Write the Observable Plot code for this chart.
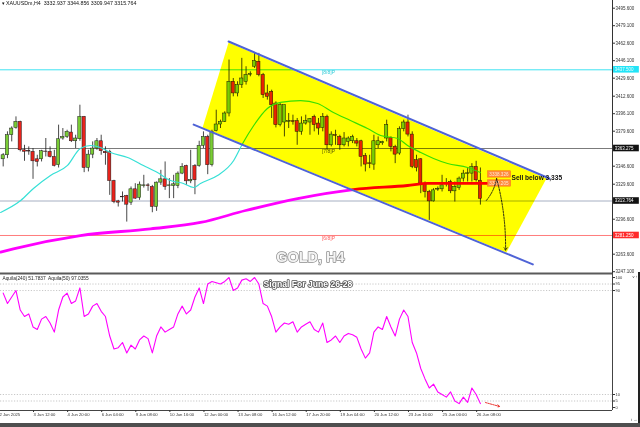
<!DOCTYPE html>
<html><head><meta charset="utf-8">
<script src="https://cdn.jsdelivr.net/npm/d3@7"></script>
<script src="https://cdn.jsdelivr.net/npm/@observablehq/plot@0.6"></script>
<style>
html,body{margin:0;padding:0;background:#fff;}
body{width:640px;height:427px;overflow:hidden;position:relative;font-family:"Liberation Sans",sans-serif;}
#main{position:absolute;left:0;top:0;}
#ind{position:absolute;left:0;top:272px;}
#foot{position:absolute;left:0;top:423px;width:640px;height:4px;background:#4f4f4f;}
#edge{position:absolute;left:638px;top:272px;width:2px;height:151px;background:#222;}
</style></head><body>
<div id="main"></div><div id="ind"></div><div id="foot"></div><div id="edge"></div>
<script>
// ---------------- data ----------------
const header = "\u25BE XAUUSDm,H4  3332.937 3344.856 3309.947 3315.764";
const open = [3353.1,3356.9,3375.8,3382.7,3388.4,3361.6,3361.0,3360.1,3353.1,3353.1,
3360.4,3360.1,3355.3,3347.5,3372.7,3374.2,3378.3,3370.1,3372.0,3393.1,
3344.9,3357.5,3363.2,3370.1,3360.1,3360.1,3332.6,3313.4,3317.8,3318.5,
3312.2,3324.8,3316.6,3327.9,3328.5,3327.0,3308.1,3331.1,3334.2,3327.9,
3327.9,3327.9,3339.6,3346.8,3332.3,3346.8,3346.8,3365.7,3374.2,3347.5,
3379.6,3385.9,3388.4,3396.3,3426.2,3415.2,3423.1,3426.2,3432.8,3440.4,
3445.1,3432.5,3415.2,3416.8,3405.7,3385.3,3387.8,3388.4,3389.0,3389.0,
3379.0,3386.8,3387.8,3393.1,3386.8,3382.7,3393.1,3366.3,3375.8,3374.2,
3366.3,3369.5,3370.1,3370.1,3370.1,3356.3,3349.3,3348.1,3366.3,3368.2,
3372.7,3373.3,3364.8,3358.5,3381.5,3387.8,3376.4,3352.2,3353.1,3330.1,
3322.3,3313.4,3324.5,3324.8,3329.8,3331.7,3322.9,3326.0,3334.9,3339.3,
3339.6,3345.9,3332.9];
const high = [3358.5,3379.0,3383.7,3393.1,3389.0,3366.3,3364.8,3363.2,3356.9,3361.6,
3372.7,3364.8,3361.6,3385.3,3382.1,3380.5,3385.3,3375.8,3404.1,3393.5,
3361.6,3369.5,3372.7,3375.8,3364.8,3361.6,3333.3,3314.4,3322.3,3319.1,
3327.0,3330.1,3331.7,3338.0,3330.1,3328.5,3331.7,3342.7,3350.6,3334.9,
3338.0,3341.2,3349.0,3347.5,3361.6,3348.1,3370.1,3379.0,3375.8,3380.5,
3399.4,3390.0,3397.9,3446.7,3429.3,3426.2,3448.3,3440.4,3435.6,3453.0,
3453.0,3434.1,3423.1,3418.3,3407.3,3405.7,3404.1,3396.3,3394.7,3391.6,
3393.1,3394.7,3391.6,3394.7,3391.6,3396.3,3394.7,3379.0,3380.5,3375.8,
3378.3,3374.2,3375.8,3372.7,3371.1,3358.5,3356.9,3375.8,3374.2,3370.1,
3390.0,3374.2,3366.3,3383.7,3390.0,3394.7,3379.0,3356.9,3353.7,3331.7,
3323.8,3325.4,3327.0,3338.0,3334.9,3333.3,3331.7,3336.4,3342.7,3344.3,
3349.0,3351.2,3344.9];
const low = [3345.9,3353.7,3369.5,3381.5,3360.1,3351.2,3356.9,3334.2,3345.9,3350.6,
3355.3,3354.4,3345.9,3344.9,3371.1,3372.7,3368.9,3363.2,3370.1,3340.5,
3341.2,3353.7,3361.6,3356.9,3347.5,3319.1,3311.2,3308.1,3312.8,3293.9,
3309.6,3315.3,3314.4,3326.0,3322.9,3302.7,3304.0,3328.5,3323.8,3316.0,
3316.0,3325.4,3338.6,3328.5,3330.1,3319.7,3345.6,3363.2,3338.6,3345.9,
3379.0,3382.1,3387.8,3393.1,3412.0,3412.0,3419.9,3423.1,3430.9,3438.8,
3430.9,3410.5,3408.9,3391.6,3382.7,3383.7,3374.2,3382.1,3385.3,3366.3,
3375.8,3385.3,3375.8,3379.0,3375.8,3379.0,3361.6,3364.8,3366.3,3361.6,
3364.8,3364.8,3367.9,3364.8,3345.9,3341.2,3344.3,3342.7,3363.2,3366.3,
3369.5,3360.1,3349.0,3356.9,3379.0,3374.2,3344.3,3341.2,3320.7,3316.6,
3295.5,3312.8,3322.9,3322.3,3327.0,3320.7,3312.8,3323.8,3331.7,3331.7,
3331.7,3331.7,3309.9];
const close = [3356.9,3375.8,3382.1,3388.4,3361.6,3360.1,3360.4,3351.2,3350.6,3360.7,
3360.1,3355.3,3346.8,3372.0,3374.2,3379.0,3370.1,3372.7,3393.1,3344.9,
3357.5,3363.2,3370.1,3360.7,3358.8,3332.6,3312.8,3312.2,3317.2,3310.3,
3324.8,3316.0,3329.2,3328.5,3327.9,3308.1,3331.1,3334.2,3327.0,3328.5,
3329.5,3339.6,3345.9,3332.3,3333.6,3333.3,3365.7,3374.2,3347.5,3379.0,
3385.9,3388.4,3396.3,3426.2,3415.2,3423.1,3429.3,3432.5,3433.4,3445.7,
3432.5,3413.6,3412.0,3404.1,3385.3,3404.1,3404.1,3389.0,3388.4,3379.0,
3386.8,3389.0,3390.9,3385.3,3382.1,3393.1,3366.3,3376.4,3375.2,3366.3,
3372.7,3372.7,3374.2,3367.9,3355.3,3348.1,3348.7,3370.1,3370.1,3369.5,
3385.3,3364.8,3357.5,3381.5,3387.8,3376.4,3345.9,3344.9,3330.1,3322.3,
3313.4,3323.8,3325.1,3328.5,3330.4,3322.9,3327.0,3334.9,3339.6,3339.9,
3345.9,3333.3,3315.8];
const aquila50 = [88,80,85,90,75,70,72,62,60,68,
70,65,58,75,85,88,80,82,92,70,
72,78,80,74,70,55,45,46,50,42,
48,45,52,55,53,42,55,62,58,60,
62,72,78,72,75,85,92,80,95,97,
96,95,97,100,90,92,98,99,97,100,
95,80,78,70,58,62,65,64,66,58,
62,64,66,60,58,65,50,52,55,50,
55,57,56,54,45,38,42,58,62,60,
70,62,55,68,75,70,50,42,30,22,
15,18,12,10,8,12,5,3,8,4,
15,10,3];
const maFastBar = [-0.6,4.1,7.1,11.1,15.1,18.1,20.5,22.8,25.2,29.2,32.9,36.2,39.3,42.3,44.7,46.3,50.3,54.1,56.2,58.8,62.0,65.1,69.8,73.8,77.5,81.5,85.5,88.6,92.6,94.9,98.0,101.0,104.3,109.0,112.0];
const maFastPrice = [3303.0,3314.2,3325.6,3337.8,3347.3,3363.3,3366.1,3364.2,3359.5,3354.8,3347.3,3340.6,3333.1,3330.3,3326.5,3330.3,3337.8,3352.0,3368.0,3385.0,3401.0,3406.7,3408.5,3405.7,3397.2,3389.7,3382.1,3375.5,3372.7,3366.1,3359.5,3353.9,3349.1,3345.4,3340.6];
const maSlowBar = [-0.6,2.4,18.1,34.6,46.3,56.9,69.1,82.2,94.9,99.6,113.5];
const maSlowPrice = [3265.6,3268.7,3281.2,3287.5,3293.5,3304.8,3316.1,3324.6,3328.4,3330.3,3330.3];
const priceTicks = [3495.6,3479.1,3462.6,3446.1,3429.6,3412.6,3396.1,3379.6,3346.6,3329.6,3296.6,3263.6,3247.1];
const levelPrices = [3437.5,3363.275,3313.764,3281.25];
const levelNames = ["[8/8]P","[7/8]P","","[6/8]P"];
const timeTickBars = [-1,7,15,23,31,39,47,55,63,71,79,87,95,103,111];
const timeTickLabels = ["2 Jun 2025","3 Jun 12:00","4 Jun 20:00","6 Jun 04:00","9 Jun 08:00","10 Jun 16:00","12 Jun 00:00","13 Jun 08:00","16 Jun 12:00","17 Jun 20:00","19 Jun 04:00","20 Jun 12:00","23 Jun 16:00","25 Jun 00:00","26 Jun 08:00"];
const aquilaTicks = [100,95,90,10,5,0];
const aquilaLevels = [95,90,10,5];
const channelUpperBar = [52.9,128.2], channelUpperPrice = [3464.2,3335.0];
const channelLowerBar = [44.7,124.3], channelLowerPrice = [3385.8,3254.0];
const channelFillBar = [46.8,52.9,127.5,118.1], channelFillPrice = [3383.1,3463.2,3335.0,3265.2];
const forecastBar = [113.4,115.8,117.9], forecastPrice = [3314.3,3335.0,3267.2];
const pendingPrices = [3338.8,3330.3], pendingLabels = ["3338.326","3326.205"];
const sellText = "Sell below 3,335", sellBar = 119.3, sellPrice = 3335.9;
const titleText = "GOLD, H4", titleBar = 72.1, titlePrice = 3260.5;
const signalText = "Signal For June 26-28", signalBar = 61.1, signalValue = 94.6;
const indicatorLegend = "Aquila(240) 51.7837  Aquila(50) 97.0355";
const signalArrowBar = [113.2,116.5], signalArrowValue = [3.8,0.8];

// ---------------- build ----------------
const XD = [-0.634, 143.0];
const YD = [3245.4, 3502.85];
const bars = open.map((o,i)=>({i, o, h:high[i], l:low[i], c:close[i], up: close[i] >= o}));
const zipXY = (xs, ys) => xs.map((x,k)=>({i:x, p:ys[k]}));
const levels = levelPrices.map((p,k)=>({p, name:levelNames[k], k}));
const levelColor = ["#3fe3f2","#7b7b7b","#a6afc2","#ff7d7d"];
const nameColor = ["#2ccbd8","#555","#999","#ff5a5a"];
const tagBg = ["#22e4f7","#111","#111","#ff2a2a"];
const tagFg = ["#e8ffff","#fff","#fff","#fff"];
const font = "Liberation Sans, Arial, sans-serif";

const main = Plot.plot({
  width:640, height:273, marginLeft:0, marginRight:28, marginTop:0, marginBottom:0,
  x:{domain:XD, axis:null},
  y:{domain:YD, axis:null},
  style:{fontFamily:font, overflow:"visible", background:"white"},
  marks:[
    Plot.ruleY(levels, {y:"p", stroke:d=>levelColor[d.k], strokeWidth:1}),
    Plot.ruleX(bars, {x:"i", y1:"l", y2:"h", stroke:"#1a1a1a", strokeWidth:0.8}),
    Plot.rect(bars, {x1:d=>d.i-0.38, x2:d=>d.i+0.38, y1:"o", y2:"c",
      fill:d=>d.up?"#79cc35":"#e8231c", stroke:"#1a1a1a", strokeWidth:0.5}),
    Plot.line(zipXY(maFastBar, maFastPrice), {x:"i", y:"p", stroke:"#37e0d6", strokeWidth:1.2, curve:"monotone-x"}),
    Plot.line(zipXY(maSlowBar, maSlowPrice), {x:"i", y:"p", stroke:"#ff00ff", strokeWidth:2.8, curve:"monotone-x"}),
    Plot.text(levels.filter(d=>d.name), {x:()=>74.8, y:"p", text:"name", fill:d=>nameColor[d.k],
      textAnchor:"start", lineAnchor:"top", dy:1, fontSize:5}),
    Plot.line(zipXY(channelFillBar, channelFillPrice), {x:"i", y:"p", fill:"#ffff00", stroke:"none", mixBlendMode:"multiply"}),
    Plot.line(zipXY(channelUpperBar, channelUpperPrice), {x:"i", y:"p", stroke:"#4f63d6", strokeWidth:2}),
    Plot.line(zipXY(channelLowerBar, channelLowerPrice), {x:"i", y:"p", stroke:"#4f63d6", strokeWidth:2}),
    // pending order tags
    Plot.rect(pendingPrices.map((p,k)=>({p,k})), {x1:()=>113.8, x2:()=>119.2, y1:d=>d.p-3, y2:d=>d.p+3, fill:"#ff8a3d", stroke:"#ff6a10", strokeWidth:0.5}),
    Plot.text(pendingPrices.map((p,k)=>({p,t:pendingLabels[k]})), {x:()=>114.1, y:"p", text:"t", fill:"#ffe9d2", textAnchor:"start", fontSize:4.6}),
    // forecast arrow
    Plot.arrow([{a:0}], {x1:()=>forecastBar[0], y1:()=>forecastPrice[0], x2:()=>forecastBar[1], y2:()=>forecastPrice[1],
      bend:-15, headLength:0, stroke:"#111", strokeWidth:0.9, strokeDasharray:"1.6,1.2"}),
    Plot.arrow([{a:0}], {x1:()=>forecastBar[1], y1:()=>forecastPrice[1], x2:()=>forecastBar[2], y2:()=>forecastPrice[2],
      bend:8, headLength:5, stroke:"#111", strokeWidth:0.9, strokeDasharray:"1.6,1.2"}),
    Plot.text([sellText], {x:()=>sellBar, y:()=>sellPrice, text:d=>d, textAnchor:"start", fontSize:6.6, fontWeight:"bold", fill:"#111"}),
    Plot.text([titleText], {x:()=>titleBar, y:()=>titlePrice, text:d=>d, fontSize:14.5, fontWeight:"bold",
      fill:"#f4f4f4", stroke:"#8c8c8c", strokeWidth:1.4, paintOrder:"stroke"}),
    Plot.text([header], {frameAnchor:"top-left", text:d=>d, dx:1, dy:1, lineAnchor:"top", fontSize:5.3, fill:"#111"}),
    // right price axis
    Plot.ruleX([XD[1]], {stroke:"#333", strokeWidth:1}),
    Plot.axisY(priceTicks, {anchor:"right", tickSize:2, tickPadding:1, fontSize:4.5, tickFormat:d=>d.toFixed(3), stroke:"#333", fill:"#333"}),
    Plot.rect(levels, {x1:()=>143.25, x2:()=>149.3, y1:d=>d.p-3.1, y2:d=>d.p+3.1, fill:d=>tagBg[d.k]}),
    Plot.text(levels, {x:()=>143.5, y:"p", text:d=>d.p.toFixed(3), fill:d=>tagFg[d.k], textAnchor:"start", fontSize:4.5})
  ]
});
document.getElementById("main").appendChild(main);

const IYD = [-2.3, 103.1];
const ind = Plot.plot({
  width:640, height:151, marginLeft:0, marginRight:28, marginTop:1, marginBottom:13,
  x:{domain:XD, axis:null},
  y:{domain:IYD, axis:null},
  style:{fontFamily:font, overflow:"visible", background:"none"},
  marks:[
    Plot.ruleY(aquilaLevels, {stroke:"#b0b0b0", strokeWidth:0.7, strokeDasharray:"1.2,1.6"}),
    Plot.line(aquila50.map((v,i)=>({i,v})), {x:"i", y:"v", stroke:"#ff00ff", strokeWidth:1.1}),
    Plot.arrow([{a:0}], {x1:()=>signalArrowBar[0], y1:()=>signalArrowValue[0], x2:()=>signalArrowBar[1], y2:()=>signalArrowValue[1],
      headLength:4, stroke:"#e8231c", strokeWidth:0.9, strokeDasharray:"1.5,1"}),
    Plot.text([signalText], {x:()=>signalBar, y:()=>signalValue, text:d=>d, textAnchor:"start", fontSize:8.6, fontWeight:"bold",
      fill:"#ffffff", stroke:"#505050", strokeWidth:1.6, paintOrder:"stroke"}),
    Plot.text([indicatorLegend], {frameAnchor:"top-left", text:d=>d, dx:2, dy:3, lineAnchor:"top", fontSize:4.8, fill:"#222"}),
    Plot.ruleY([IYD[1]], {stroke:"#5a5a5a", strokeWidth:2}),
    Plot.ruleY([IYD[0]], {stroke:"#444", strokeWidth:1}),
    Plot.ruleX([XD[1]], {stroke:"#444", strokeWidth:1}),
    Plot.axisY(aquilaTicks, {anchor:"right", tickSize:2, tickPadding:1, fontSize:4, stroke:"#333", fill:"#333"}),
    Plot.axisX(timeTickBars, {anchor:"bottom", tickSize:2, tickPadding:1, fontSize:4.2, textAnchor:"start", dx:0.5,
      tickFormat:d=>timeTickLabels[timeTickBars.indexOf(d)], stroke:"#333", fill:"#333"})
  ]
});
document.getElementById("ind").appendChild(ind);
</script></body></html>
